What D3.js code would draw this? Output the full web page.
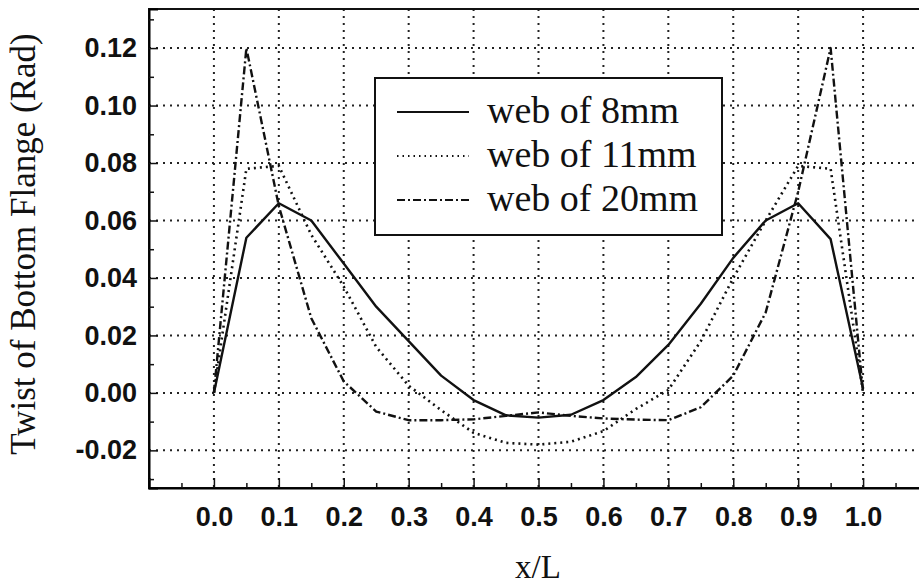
<!DOCTYPE html>
<html>
<head>
<meta charset="utf-8">
<script src="https://cdn.jsdelivr.net/npm/d3@7"></script>
<style>
    body { margin: 0; background: #ffffff; }
    .tick text { font-family: "Liberation Sans", Arial, sans-serif; font-size: 27px; font-weight: bold; fill: #111; }
    .serif { font-family: "Liberation Serif", "Times New Roman", serif; fill: #111; }
</style>
</head>
<body>
<div id="chart"></div>
<script>
/* x positions along the beam */
var xL = [0.00, 0.05, 0.10, 0.15, 0.20, 0.25, 0.30, 0.35, 0.40, 0.45, 0.50,
          0.55, 0.60, 0.65, 0.70, 0.75, 0.80, 0.85, 0.90, 0.95, 1.00];

/* twist values (rad) */
var web8  = [0.000, 0.054, 0.066, 0.060, 0.045, 0.030, 0.018, 0.006, -0.0025, -0.0078, -0.0086,
             -0.0076, -0.0025, 0.0055, 0.0167, 0.031, 0.047, 0.060, 0.066, 0.0535, 0.0015];
var web11 = [0.000, 0.078, 0.079, 0.055, 0.037, 0.016, 0.0025, -0.006, -0.0139, -0.0174, -0.018,
             -0.017, -0.0133, -0.0056, 0.001, 0.018, 0.040, 0.060, 0.079, 0.078, 0.000];
var web20 = [0.000, 0.120, 0.065, 0.026, 0.004, -0.0065, -0.0095, -0.0095, -0.0092, -0.008, -0.0068,
             -0.008, -0.0089, -0.0093, -0.0095, -0.005, 0.006, 0.028, 0.070, 0.120, 0.000];

var seriesNames = ["web of 8mm", "web of 11mm", "web of 20mm"];

/* tick values */
var xMajor = [0.0, 0.1, 0.2, 0.3, 0.4, 0.5, 0.6, 0.7, 0.8, 0.9, 1.0];
var xMinor = [-0.05, 0.05, 0.15, 0.25, 0.35, 0.45, 0.55, 0.65, 0.75, 0.85, 0.95, 1.05];
var yMajor = [-0.02, 0.00, 0.02, 0.04, 0.06, 0.08, 0.10, 0.12];
var yMinor = [-0.03, -0.01, 0.01, 0.03, 0.05, 0.07, 0.09, 0.11, 0.13];

function chart(selector)
{
    var width = 919;
    var height = 588;
    var left = 149, right = 928, top = 9, bottom = 488;

    /* line styles for the three webs */
    var dashes = [null, "2,4", "8,3,2,3"];
    var seriesData = [web8, web11, web20];

    var theSVG = d3.select(selector)
        .append("svg")
        .attr("width", width)
        .attr("height", height)
    ;

    var x = d3.scaleLinear().domain([-0.1, 1.1]).range([left, right]);
    var y = d3.scaleLinear().domain([-0.0331, 0.1336]).range([bottom, top]);

    /* dotted grid */
    var grid = theSVG.append("g").attr("class", "grid")
        .attr("stroke", "#222")
        .attr("stroke-width", 2)
        .attr("stroke-dasharray", "2,5");

    grid.selectAll("line.v").data(xMajor).enter().append("line")
        .attr("class", "v")
        .attr("x1", function (d) { return x(d); })
        .attr("x2", function (d) { return x(d); })
        .attr("y1", top)
        .attr("y2", bottom)
    ;
    grid.selectAll("line.h").data(yMajor).enter().append("line")
        .attr("class", "h")
        .attr("x1", left)
        .attr("x2", right)
        .attr("y1", function (d) { return y(d); })
        .attr("y2", function (d) { return y(d); })
    ;

    /* frame */
    theSVG.append("rect")
        .attr("x", left)
        .attr("y", top)
        .attr("width", right - left)
        .attr("height", bottom - top)
        .attr("fill", "none")
        .attr("stroke", "#111")
        .attr("stroke-width", 2)
    ;

    /* axes, ticks pointing inward */
    theSVG.append("g")
        .attr("transform", "translate(0," + bottom + ")")
        .call(d3.axisBottom(x).tickValues(xMajor).tickSize(-10).tickPadding(19)
            .tickFormat(function (d) { return d.toFixed(1); }))
        .call(function (g) { g.select(".domain").attr("stroke-width", 2); })
    ;
    theSVG.append("g")
        .attr("transform", "translate(0," + bottom + ")")
        .call(d3.axisBottom(x).tickValues(xMinor).tickSize(-5).tickFormat(""))
        .call(function (g) { g.select(".domain").remove(); })
    ;
    theSVG.append("g")
        .attr("transform", "translate(" + left + ",0)")
        .call(d3.axisLeft(y).tickValues(yMajor).tickSize(-9).tickPadding(12)
            .tickFormat(function (d) { return d.toFixed(2); }))
        .call(function (g) { g.select(".domain").attr("stroke-width", 2); })
    ;
    theSVG.append("g")
        .attr("transform", "translate(" + left + ",0)")
        .call(d3.axisLeft(y).tickValues(yMinor).tickSize(-5).tickFormat(""))
        .call(function (g) { g.select(".domain").remove(); })
    ;
    theSVG.selectAll(".tick line").attr("stroke", "#111").attr("stroke-width", 1.5);

    /* the three curves */
    var line = d3.line()
        .x(function (d) { return x(d[0]); })
        .y(function (d) { return y(d[1]); });

    seriesData.forEach(function (vals, i) {
        theSVG.append("path")
            .datum(d3.zip(xL, vals))
            .attr("fill", "none")
            .attr("stroke", "#111")
            .attr("stroke-width", i == 1 ? 2.6 : 2.4)
            .attr("stroke-linejoin", "round")
            .attr("stroke-dasharray", dashes[i])
            .attr("d", line)
        ;
    });

    /* legend */
    var legend = theSVG.append("g").attr("class", "legend");
    legend.append("rect")
        .attr("x", 375)
        .attr("y", 78)
        .attr("width", 347)
        .attr("height", 157)
        .attr("fill", "#fff")
        .attr("stroke", "#111")
        .attr("stroke-width", 2)
    ;
    var rows = legend.selectAll("g.row").data(seriesNames).enter().append("g")
        .attr("class", "row")
        .attr("transform", function (d, i) { return "translate(0," + (112 + i * 44) + ")"; });
    rows.append("line")
        .attr("x1", 397).attr("x2", 469)
        .attr("y1", 0).attr("y2", 0)
        .attr("stroke", "#111")
        .attr("stroke-width", 2)
        .attr("stroke-dasharray", function (d, i) { return i == 1 ? "1.5,4" : dashes[i]; });
    rows.append("text")
        .attr("class", "serif")
        .attr("x", 487)
        .attr("y", 11)
        .attr("font-size", 38)
        .text(function (d) { return d; });

    /* axis titles */
    theSVG.append("text")
        .attr("class", "serif")
        .attr("transform", "translate(35,244) rotate(-90)")
        .attr("text-anchor", "middle")
        .attr("font-size", 35)
        .text("Twist of Bottom Flange (Rad)")
    ;
    theSVG.append("text")
        .attr("class", "serif")
        .attr("x", 538)
        .attr("y", 578)
        .attr("text-anchor", "middle")
        .attr("font-size", 33)
        .text("x/L")
    ;
}

chart("#chart");
</script>
</body>
</html>
